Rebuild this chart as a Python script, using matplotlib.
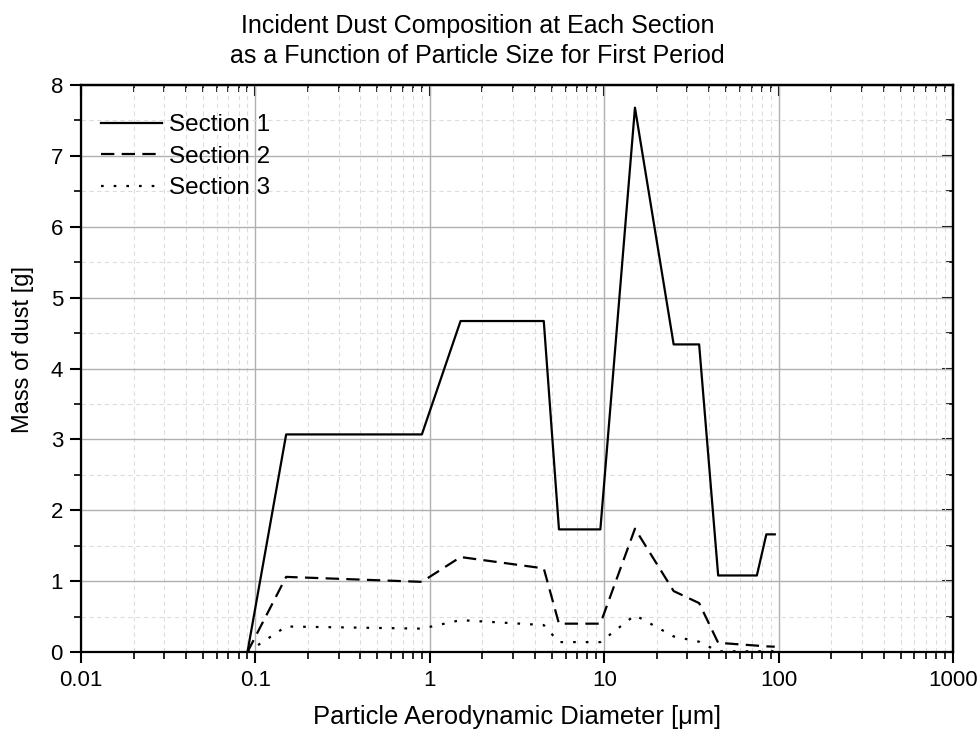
import matplotlib
matplotlib.use("Agg")
import matplotlib.pyplot as plt
from matplotlib.ticker import LogLocator, MultipleLocator, NullFormatter, FixedLocator, FixedFormatter

plt.rcParams['font.family'] = ['Liberation Sans', 'DejaVu Sans']

# Particle size bins [um]
diameter = [0.09, 0.15, 0.9, 1.5, 4.5, 5.5, 9.5, 15, 25, 35, 45, 75, 85, 95]

# Mass of dust [g] per section
section1 = [0.0, 3.07, 3.07, 4.67, 4.67, 1.73, 1.73, 7.68, 4.34, 4.34, 1.08, 1.08, 1.66, 1.66]
section2 = [0.0, 1.06, 0.99, 1.34, 1.18, 0.40, 0.40, 1.74, 0.86, 0.69, 0.13, 0.09, 0.08, 0.075]
section3 = [0.0, 0.36, 0.33, 0.45, 0.38, 0.14, 0.14, 0.52, 0.22, 0.145, 0.01, 0.01, 0.01, 0.01]

xtick_vals = [0.01, 0.1, 1, 10, 100, 1000]
xtick_labels = ['0.01', '0.1', '1', '10', '100', '1000']

fig = plt.figure(figsize=(9.8, 7.29), dpi=100)
ax = fig.add_axes([0.0827, 0.1056, 0.8898, 0.7778])

ax.plot(diameter, section1, color='black', lw=1.6, ls='-', label='Section 1')
ax.plot(diameter, section2, color='black', lw=1.6, ls=(0, (6, 3.3)), label='Section 2')
ax.plot(diameter, section3, color='black', lw=1.6, ls=(0, (1.2, 4.5)), label='Section 3')

ax.set_xscale('log')
ax.set_xlim(0.01, 1000)
ax.set_ylim(0, 8)

ax.xaxis.set_major_locator(FixedLocator(xtick_vals))
ax.xaxis.set_major_formatter(FixedFormatter(xtick_labels))
ax.xaxis.set_minor_locator(LogLocator(base=10, subs=range(2, 10), numticks=20))
ax.xaxis.set_minor_formatter(NullFormatter())
ax.yaxis.set_major_locator(MultipleLocator(1))
ax.yaxis.set_minor_locator(MultipleLocator(0.5))

ax.grid(which='major', color='#b0b0b0', lw=1.0, ls='-')
ax.grid(which='minor', color='#dddddd', lw=0.8, ls=(0, (4, 3)))
ax.set_axisbelow(True)

for s in ax.spines.values():
    s.set_linewidth(1.6)

ax.tick_params(which='major', direction='out', length=8, width=1.5, labelsize=16,
               pad=5, bottom=True, left=True, top=False, right=False)
ax.tick_params(which='minor', direction='out', length=5, width=1.2,
               bottom=True, left=True, top=False, right=False)

# Inward ticks on the top and right edges
axt = ax.secondary_xaxis('top')
axt.set_xticks(xtick_vals)
axt.xaxis.set_minor_locator(LogLocator(base=10, subs=range(2, 10), numticks=20))
axt.xaxis.set_minor_formatter(NullFormatter())
axt.tick_params(which='major', direction='in', length=8, width=1.5, labeltop=False)
axt.tick_params(which='minor', direction='in', length=5, width=1.2)
axt.spines['top'].set_linewidth(1.6)

axr = ax.secondary_yaxis('right')
axr.yaxis.set_major_locator(MultipleLocator(1))
axr.yaxis.set_minor_locator(MultipleLocator(0.5))
axr.tick_params(which='major', direction='in', length=8, width=1.5, labelright=False)
axr.tick_params(which='minor', direction='in', length=5, width=1.2)
axr.spines['right'].set_linewidth(1.6)

ax.set_xlabel('Particle Aerodynamic Diameter [\u03bcm]', fontsize=18.4, labelpad=10)
ax.set_ylabel('Mass of dust [g]', fontsize=17)
ax.yaxis.set_label_coords(-0.054, 0.533)
ax.set_title('Incident Dust Composition at Each Section\nas a Function of Particle Size for First Period',
             fontsize=18, linespacing=1.3, pad=16, x=0.455)

ax.legend(loc='upper left', frameon=False, fontsize=17.5, handlelength=2.5,
          handletextpad=0.3, labelspacing=0.4, borderaxespad=0.0,
          bbox_to_anchor=(0.012, 0.966))

fig.savefig('out.png', dpi=100)
